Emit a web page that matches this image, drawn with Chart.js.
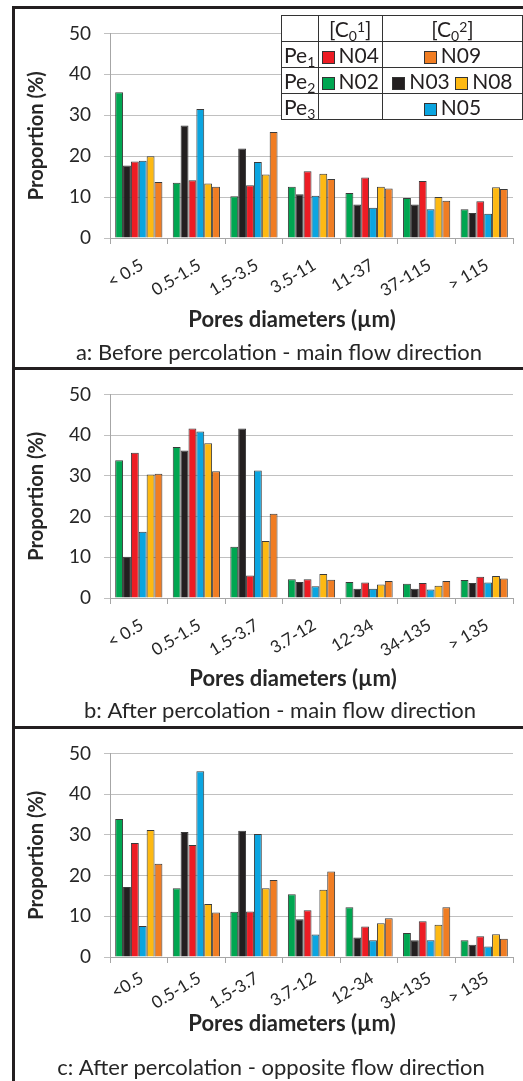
<!DOCTYPE html>
<html>
<head>
<meta charset="utf-8">
<script src="https://cdn.jsdelivr.net/npm/chart.js@4.4.1/dist/chart.umd.min.js"></script>
<style>
    html, body { margin: 0; padding: 0; background: #fff; width: 523px; height: 1081px; overflow: hidden; }
    body { position: relative; font-family: Lato, sans-serif; color: #231f20; }
    #frame { position: absolute; left: 12px; top: 6px; width: 600px; height: 1200px; border: 3px solid #231f20; }
    .divider { position: absolute; left: 12px; width: 600px; height: 3px; background: #231f20; }
    canvas { position: absolute; left: 15px; }
    #key { position: absolute; left: 281px; top: 15px; border-collapse: collapse; background: #fff; font-size: 21px; line-height: 1; }
    #key td { border: 1.5px solid #333; height: 25px; padding: 0; text-align: center; white-space: nowrap; }
    #key td:first-child { text-align: left; padding-left: 2px; width: 36px; }
    #key td:nth-child(2) { width: 70px; }
    #key td:nth-child(3) { width: 160px; }
    #key .lo { font-size: 14px; vertical-align: -4px; line-height: 0; }
    #key .hi { font-size: 14px; vertical-align: 5px; line-height: 0; }
    .sw { display: inline-block; width: 13px; height: 13px; border: 1px solid #333; margin-right: 4px; vertical-align: -1px; box-sizing: border-box; }
</style>
</head>
<body>
<div id="frame"></div>
<div class="divider" style="top:367px"></div>
<div class="divider" style="top:726px"></div>
<canvas id="chartA" width="508" height="358" style="top:9px"></canvas>
<canvas id="chartB" width="508" height="356" style="top:370px"></canvas>
<canvas id="chartC" width="508" height="352" style="top:729px"></canvas>
<table id="key"></table>
<script>
// size classes (µm) for each panel
const categoriesA = ['< 0.5', '0.5-1.5', '1.5-3.5', '3.5-11', '11-37', '37-115', '> 115'];
const categoriesB = ['< 0.5', '0.5-1.5', '1.5-3.7', '3.7-12', '12-34', '34-135', '> 135'];
const categoriesC = ['<0.5', '0.5-1.5', '1.5-3.7', '3.7-12', '12-34', '34-135', '> 135'];

const seriesNames = ['N02', 'N03', 'N04', 'N05', 'N08', 'N09'];
const seriesColors = ['#00a651', '#231f20', '#ed1c24', '#0ba5e0', '#fdb913', '#f07d23'];

// a: before percolation - main flow direction
const beforeN02 = [35.6, 13.5, 10.2, 12.5, 11.0, 9.8, 7.0];
const beforeN03 = [17.7, 27.5, 21.9, 10.7, 8.2, 8.2, 6.1];
const beforeN04 = [18.7, 14.1, 12.9, 16.3, 14.8, 13.9, 9.0];
const beforeN05 = [18.9, 31.5, 18.6, 10.3, 7.4, 7.0, 5.9];
const beforeN08 = [20.0, 13.3, 15.5, 15.7, 12.5, 10.0, 12.4];
const beforeN09 = [13.7, 12.5, 25.9, 14.4, 12.1, 9.1, 12.0];

// b: after percolation - main flow direction
const mainN02 = [33.8, 37.1, 12.6, 4.6, 3.9, 3.5, 4.4];
const mainN03 = [10.1, 36.2, 41.6, 3.9, 2.3, 2.3, 3.7];
const mainN04 = [35.7, 41.6, 5.5, 4.6, 3.8, 3.7, 5.2];
const mainN05 = [16.3, 40.9, 31.3, 2.9, 2.3, 2.1, 3.8];
const mainN08 = [30.3, 38.0, 14.0, 5.9, 3.3, 3.0, 5.4];
const mainN09 = [30.5, 31.1, 20.7, 4.5, 4.2, 4.2, 4.8];

// c: after percolation - opposite flow direction
const oppN02 = [33.9, 16.9, 11.1, 15.4, 12.2, 5.9, 4.1];
const oppN03 = [17.2, 30.7, 31.0, 9.3, 4.8, 4.1, 3.0];
const oppN04 = [28.0, 27.5, 11.2, 11.5, 7.5, 8.8, 5.1];
const oppN05 = [7.6, 45.6, 30.2, 5.5, 4.1, 4.1, 2.6];
const oppN08 = [31.2, 13.0, 16.9, 16.5, 8.3, 7.9, 5.6];
const oppN09 = [22.9, 10.9, 18.9, 21.0, 9.5, 12.2, 4.5];

const textColor = '#262626';

// x axis title + caption, placed like in the original figure (not centred on the plot)
const bottomText = {
    id: 'bottomText',
    afterDraw(chart, args, opts) {
        const ctx = chart.ctx;
        ctx.save();
        ctx.fillStyle = textColor;
        ctx.textAlign = 'center';
        ctx.textBaseline = 'middle';
        ctx.font = 'bold 22px Lato';
        ctx.fillText(opts.axisTitle, opts.titleX, opts.titleY);
        ctx.font = '22px Lato';
        ctx.fillText(opts.caption, opts.captionX, opts.captionY);
        ctx.restore();
    }
};

function makeChart(id, labels, seriesValues, caption, box) {
    const datasets = seriesValues.map((vals, i) => ({
        label: seriesNames[i],
        data: vals,
        backgroundColor: seriesColors[i],
        borderColor: '#3a3a3a',
        borderWidth: 1,
        borderSkipped: 'bottom',
        categoryPercentage: 0.82,
        barPercentage: 1.0
    }));

    return new Chart(document.getElementById(id), {
        type: 'bar',
        data: { labels: labels, datasets: datasets },
        plugins: [bottomText],
        options: {
            responsive: false,
            animation: false,
            layout: { padding: { left: 0, top: box.top, right: 10, bottom: 0 } },
            scales: {
                y: {
                    min: 0,
                    max: 50,
                    ticks: { stepSize: 10, padding: 13, color: textColor, font: { family: 'Lato', size: 19 } },
                    grid: { color: '#c0c0c0', lineWidth: 1, tickLength: 6 },
                    border: { color: '#a6a6a6' },
                    title: {
                        display: true,
                        text: 'Proportion (%)',
                        color: textColor,
                        font: { family: 'Lato', size: 20, weight: 'bold' },
                        padding: { top: 10, bottom: 0 }
                    },
                    afterFit: s => { s.width = 95; }
                },
                x: {
                    ticks: {
                        minRotation: 31, maxRotation: 31,
                        padding: box.labelPad, labelOffset: 3,
                        color: textColor, font: { family: 'Lato', size: 17 }
                    },
                    grid: { drawOnChartArea: false, color: '#a6a6a6', tickLength: 6 },
                    border: { color: '#a6a6a6' },
                    afterFit: s => { s.height = box.xHeight; }
                }
            },
            plugins: {
                legend: { display: false },
                tooltip: { enabled: false },
                bottomText: {
                    axisTitle: 'Pores diameters (µm)',
                    caption: caption,
                    titleX: box.titleX, titleY: box.titleY,
                    captionX: box.captionX, captionY: box.captionY
                }
            }
        }
    });
}

function buildKey() {
    const sw = name => {
        const c = seriesColors[seriesNames.indexOf(name)];
        return '<i class="sw" style="background:' + c + '"></i>' + name;
    };
    const rows = [
        ['', '[C<span class="lo">0</span><span class="hi">1</span>]', '[C<span class="lo">0</span><span class="hi">2</span>]'],
        ['Pe<span class="lo">1</span>', sw('N04'), sw('N09')],
        ['Pe<span class="lo">2</span>', sw('N02'), sw('N03') + ' ' + sw('N08')],
        ['Pe<span class="lo">3</span>', '', sw('N05')]
    ];
    document.getElementById('key').innerHTML = rows
        .map(r => '<tr>' + r.map(c => '<td>' + c + '</td>').join('') + '</tr>')
        .join('');
}

document.fonts.load('bold 22px Lato').then(() => {
    makeChart('chartA', categoriesA,
        [beforeN02, beforeN03, beforeN04, beforeN05, beforeN08, beforeN09],
        'a: Before percolation - main flow direction',
        { top: 19, xHeight: 129, labelPad: 11, titleX: 277, titleY: 311, captionX: 264, captionY: 344 });
    makeChart('chartB', categoriesB,
        [mainN02, mainN03, mainN04, mainN05, mainN08, mainN09],
        'b: After percolation - main flow direction',
        { top: 18, xHeight: 128, labelPad: 11, titleX: 278, titleY: 309, captionX: 265, captionY: 341 });
    makeChart('chartC', categoriesC,
        [oppN02, oppN03, oppN04, oppN05, oppN08, oppN09],
        'c: After percolation - opposite flow direction',
        { top: 19, xHeight: 124, labelPad: 5, titleX: 277, titleY: 295, captionX: 256, captionY: 339 });
    buildKey();
});
</script>
</body>
</html>
